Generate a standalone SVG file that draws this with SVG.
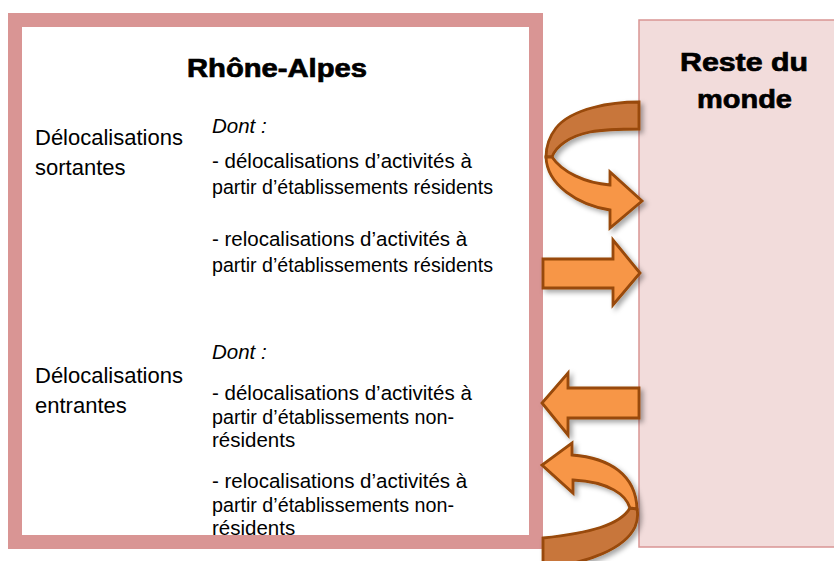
<svg xmlns="http://www.w3.org/2000/svg" width="834" height="561" viewBox="0 0 834 561">
<defs>
<style>
.body{font-family:"Liberation Sans",Arial,sans-serif;font-size:20.5px;fill:#000}
.lab{font-family:"Liberation Sans",Arial,sans-serif;font-size:22px;fill:#000}
.it{font-style:italic}
.title{font-family:"Liberation Sans",Arial,sans-serif;font-size:26px;font-weight:bold;fill:#000;stroke:#000;stroke-width:0.7}
.light{fill:#f79646;stroke:#984807;stroke-width:2.8;stroke-linejoin:miter}
.dark{fill:#c8763a;stroke:#984807;stroke-width:2.8;stroke-linejoin:miter}
</style>
<filter id="sh" x="-20%" y="-20%" width="150%" height="150%">
<feDropShadow dx="3" dy="3" stdDeviation="2.5" flood-color="#000" flood-opacity="0.35"/>
</filter>
</defs>
<rect width="834" height="561" fill="#fff"/>
<g id="rhone-alpes">
<rect x="15" y="20" width="521" height="522" fill="#fff" stroke="#d99594" stroke-width="14"/>
<text class="title" x="187" y="77" textLength="180" lengthAdjust="spacingAndGlyphs">Rhône-Alpes</text>
<text class="lab" x="35" y="145">Délocalisations</text>
<text class="lab" x="35" y="175">sortantes</text>
<text class="body it" x="212" y="133">Dont :</text>
<text class="body" x="212" y="168">- délocalisations d’activités à</text>
<text class="body" x="212" y="194" textLength="281" lengthAdjust="spacingAndGlyphs">partir d’établissements résidents</text>
<text class="body" x="212" y="246">- relocalisations d’activités à</text>
<text class="body" x="212" y="272" textLength="281" lengthAdjust="spacingAndGlyphs">partir d’établissements résidents</text>
<text class="lab" x="35" y="383">Délocalisations</text>
<text class="lab" x="35" y="413">entrantes</text>
<text class="body it" x="212" y="359">Dont :</text>
<text class="body" x="212" y="400">- délocalisations d’activités à</text>
<text class="body" x="212" y="424" textLength="242" lengthAdjust="spacingAndGlyphs">partir d’établissements non-</text>
<text class="body" x="212" y="447">résidents</text>
<text class="body" x="212" y="488">- relocalisations d’activités à</text>
<text class="body" x="212" y="512" textLength="242" lengthAdjust="spacingAndGlyphs">partir d’établissements non-</text>
<text class="body" x="212" y="535">résidents</text>
</g>
<g id="reste-du-monde">
<rect x="639" y="20" width="210" height="527" fill="#f2dcdb" stroke="#d99594" stroke-width="1.5"/>
<text class="title" x="680" y="71" textLength="128" lengthAdjust="spacingAndGlyphs">Reste du</text>
<text class="title" x="697" y="108" textLength="95" lengthAdjust="spacingAndGlyphs">monde</text>
</g>
<g id="connectors">
<g filter="url(#sh)">
<path class="dark" d="M639,102 C612,102 572,108 556,128 C549,137 546,147 546,157 L552,157 C556,146 570,136 590,132 C606,129 625,129 639,129 Z"/>
<path class="light" d="M552,157 C562,172 585,183 610,185 L610,172 L642,201 L610,228 L610,210 C578,205 547,185 546,157 Z"/>
</g>
<path class="light" filter="url(#sh)" d="M543,259 L613,259 L613,240 L640,273 L613,305 L613,288 L543,288 Z"/>
<path class="light" filter="url(#sh)" d="M639,388 L568,388 L568,373 L542,403 L568,435 L568,418 L639,418 Z"/>
<g filter="url(#sh)">
<path class="dark" d="M630,508 C620,525 590,533 543,538 L543,568 C590,563 625,548 635,527 C638,520 638,514 637,509 Z"/>
<path class="light" d="M630,508 C626,495 610,482 573,480 L573,493 L542,465 L572,443 L572,455 C610,458 636,475 637,509 Z"/>
</g>
</g>
</svg>
